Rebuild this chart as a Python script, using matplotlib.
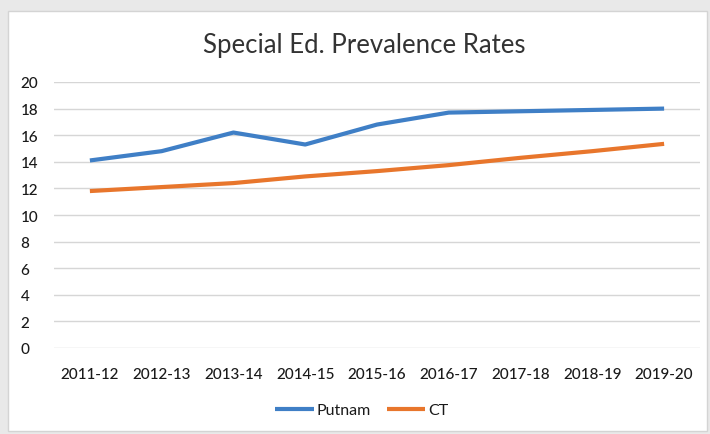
import matplotlib
matplotlib.use("Agg")
import matplotlib.pyplot as plt
from matplotlib.patches import Rectangle

years = ["2011-12", "2012-13", "2013-14", "2014-15", "2015-16",
         "2016-17", "2017-18", "2018-19", "2019-20"]
putnam = [14.1, 14.8, 16.2, 15.3, 16.8, 17.7, 17.8, 17.9, 18.0]
ct = [11.8, 12.1, 12.4, 12.9, 13.3, 13.75, 14.3, 14.8, 15.35]
yticks = [0, 2, 4, 6, 8, 10, 12, 14, 16, 18, 20]

plt.rcParams['font.family'] = ['Lato', 'DejaVu Sans']

fig = plt.figure(figsize=(7.1, 4.35), dpi=100, facecolor="#e9e9e9")

# white chart panel behind everything
bg = fig.add_axes([0, 0, 1, 1], zorder=-1)
bg.set_xlim(0, 710)
bg.set_ylim(435, 0)
bg.axis("off")
bg.add_patch(Rectangle((8, 12), 699, 420, facecolor="white",
                       edgecolor="#d4d4d4", linewidth=1.0))

ax = fig.add_axes([54 / 710, 86 / 435, 646 / 710, 266 / 435])
ax.set_facecolor("none")
x = range(len(years))
ax.plot(x, putnam, color="#3f7fc6", linewidth=3.0, solid_capstyle="butt", label="Putnam", zorder=3)
ax.plot(x, ct, color="#e8762c", linewidth=3.0, solid_capstyle="butt", label="CT", zorder=3)

ax.set_xlim(-0.5, len(years) - 0.5)
ax.set_ylim(0, 20)
ax.set_yticks(yticks)
ax.set_xticks(list(x))
ax.set_xticklabels(years)
ax.tick_params(axis="both", length=0, labelsize=11, colors="#1a1a1a")
ax.tick_params(axis="x", pad=14)
ax.tick_params(axis="y", pad=24)
for lbl in ax.get_yticklabels() + ax.get_xticklabels():
    lbl.set_fontweight("medium")
for lbl in ax.get_yticklabels():
    lbl.set_horizontalalignment("left")
ax.grid(axis="y", color="#d6d6d6", linewidth=1.0)
for s in ax.spines.values():
    s.set_visible(False)

fig.text(364 / 710, 1 - 46 / 435, "Special Ed. Prevalence Rates", ha="center", va="center",
         fontsize=18.5, color="#333333")

fig.legend(loc="center", bbox_to_anchor=(362 / 710, 1 - 411 / 435), ncol=2, frameon=False,
           fontsize=11.5, handlelength=2.4, handletextpad=0.2, columnspacing=1.0,
           labelcolor="#1a1a1a")

fig.savefig("out.png", dpi=100, facecolor=fig.get_facecolor())
